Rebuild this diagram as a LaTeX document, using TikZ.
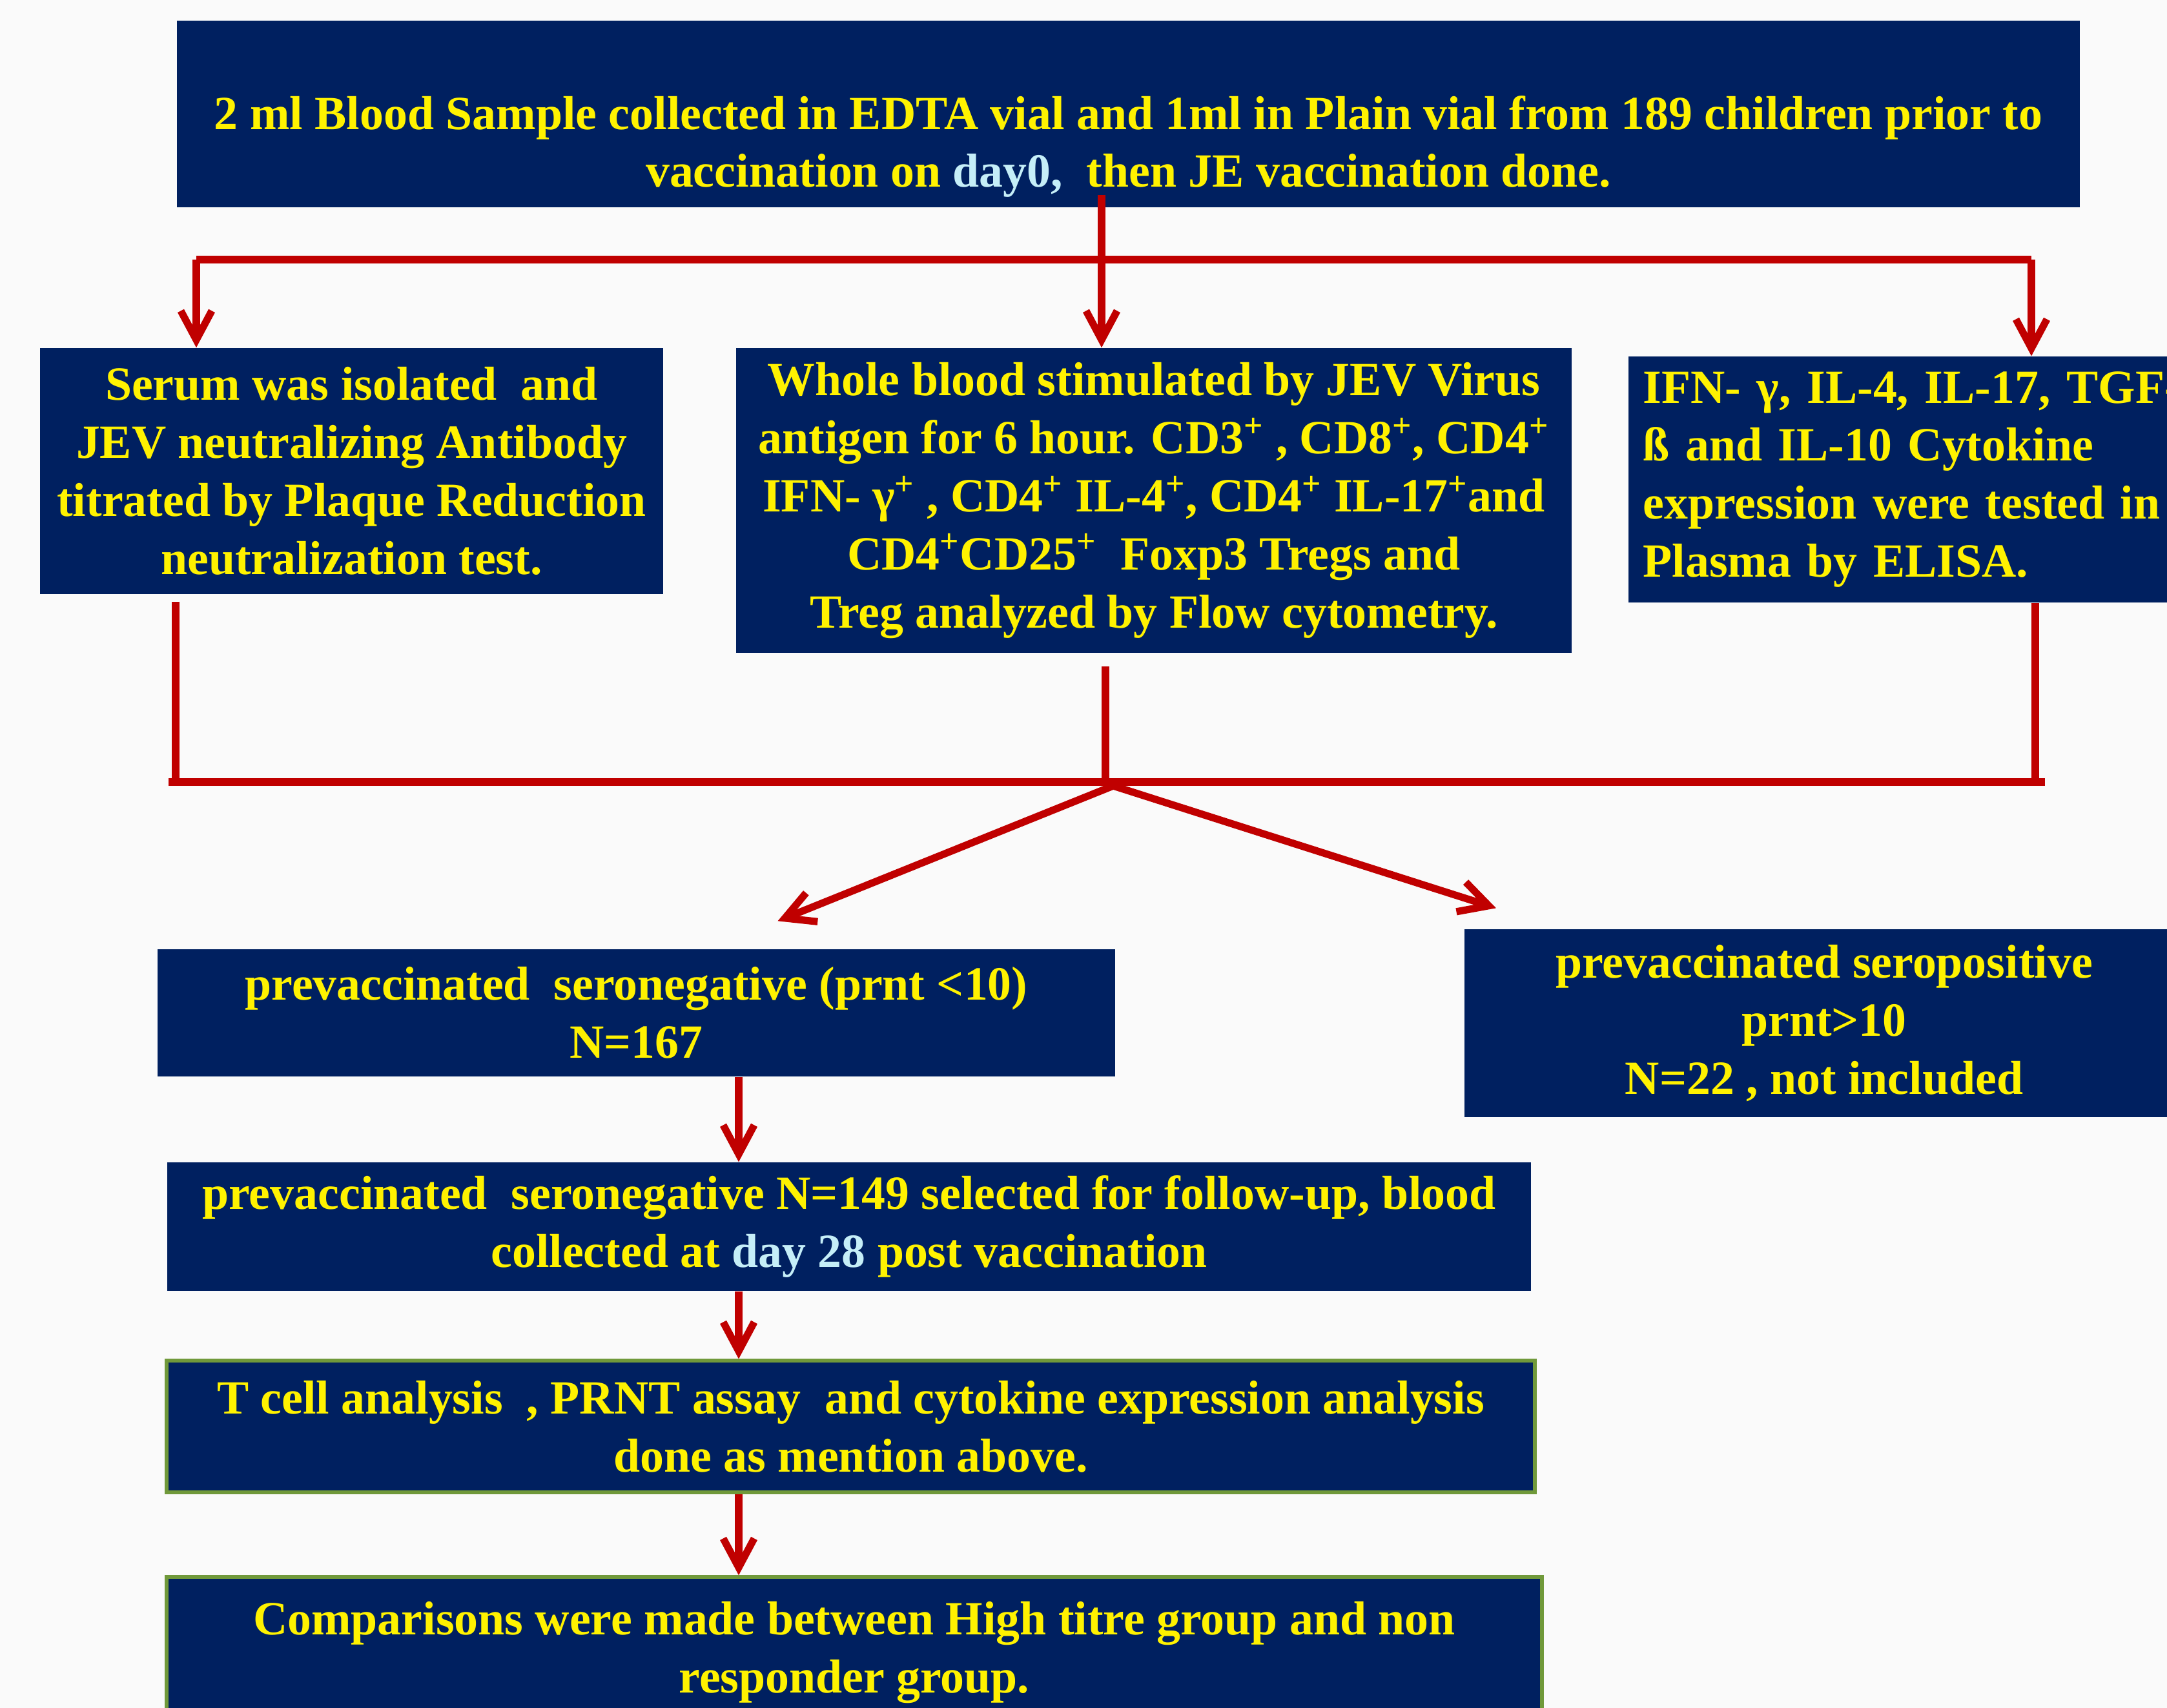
\documentclass[tikz,border=0pt]{standalone}
\usepackage{fontspec}
\setmainfont{Liberation Serif}
\usepackage{tikz,xcolor}
\usetikzlibrary{calc,positioning,arrows.meta}
\definecolor{boxblue}{HTML}{002060}
\definecolor{linered}{HTML}{C00000}
\definecolor{daycyan}{HTML}{C5EEF8}
\definecolor{boxgreen}{HTML}{70993A}
\definecolor{paper}{HTML}{FAFAFA}
\tikzset{
    bluenode/.style={
        fill=boxblue,
        text=yellow,
        align=center,
        inner sep=0pt,
        font=\bfseries\fontsize{21}{25.6}\selectfont
    },
    greennode/.style={
        bluenode,
        draw=boxgreen,
        line width=1.5pt
    },
    redline/.style={
        draw=linered,
        line width=3.2pt
    },
    redarrow/.style={
        redline,
        -{Straight Barb[length=4.5mm,width=4.8mm]}
    }
}

\begin{document}
\begin{tikzpicture}
        \useasboundingbox[fill=paper] (0,0) rectangle (33.56,-26.45);

        \node[bluenode, minimum width=29.47cm, minimum height=2.89cm] (sample) at (17.475,-1.765)
            {\strut\\ 2 ml Blood Sample collected in EDTA vial and 1ml in Plain vial from 189 children prior to\\
             vaccination on \textcolor{daycyan}{day0,}\ \ then JE vaccination done.};
        \node[bluenode, minimum width=9.65cm, minimum height=3.81cm] (serum) at (5.445,-7.295)
            {Serum was isolated\ \ and\\ JEV neutralizing Antibody\\ titrated by Plaque Reduction\\ neutralization test.};
        \node[bluenode, minimum width=12.94cm, minimum height=4.72cm] (whole) at (17.87,-7.75)
            {Whole blood stimulated by JEV Virus\\
             antigen for 6 hour. CD3\textsuperscript{+} , CD8\textsuperscript{+}, CD4\textsuperscript{+}\\
             IFN- γ\textsuperscript{+} , CD4\textsuperscript{+} IL-4\textsuperscript{+}, CD4\textsuperscript{+} IL-17\textsuperscript{+}and\\
             CD4\textsuperscript{+}CD25\textsuperscript{+}\ \ Foxp3 Tregs and\\
             Treg analyzed by Flow cytometry.};
        \node[bluenode, align=left, anchor=west, text width=9cm, inner xsep=0.23cm, minimum height=3.81cm] (cyto) at (25.21,-7.425)
            {IFN- γ, IL-4, IL-17, TGF-\\ ß and IL-10 Cytokine\\ expression were tested in\\ Plasma by ELISA.};
        \node[bluenode, minimum width=14.83cm, minimum height=1.97cm] (neg) at (9.855,-15.685)
            {prevaccinated\ \ seronegative (prnt <10)\\ N=167};
        \node[bluenode, minimum width=11.14cm, minimum height=2.91cm] (pos) at (28.25,-15.845)
            {prevaccinated seropositive\\ prnt>10\\ N=22 , not included};
        \node[bluenode, minimum width=21.12cm, minimum height=1.99cm] (follow) at (13.15,-18.995)
            {prevaccinated\ \ seronegative N=149 selected for follow-up, blood\\
             collected at \textcolor{daycyan}{day 28} post vaccination};
        \node[greennode, minimum width=21.19cm, minimum height=2.04cm] (tcell) at (13.175,-22.09)
            {T cell analysis\ \ , PRNT assay\ \ and cytokine expression analysis\\ done as mention above.};
        \node[greennode, minimum width=21.3cm, minimum height=2.34cm] (compare) at (13.23,-25.59)
            {Comparisons were made between High titre group and non\\ responder group.};

        % upper split
        \coordinate (barL) at (3.04,-4.02);
        \coordinate (split) at (17.06,-4.02);
        \coordinate (barR) at (31.46,-4.02);
        \draw[redline] (barL) -- (barR);
        \draw[redarrow] ($(sample.south -| split)+(0,0.2)$) -- (whole.north -| split);
        \draw[redarrow] (barL) -- (serum.north -| barL);
        \draw[redarrow] (barR) -- (cyto.north -| barR);

        % lower join
        \coordinate (joinL) at (2.72,-12.11);
        \coordinate (joinM) at (17.12,-12.11);
        \coordinate (joinR) at (31.52,-12.11);
        \coordinate (fork) at (17.24,-12.17);
        \draw[redline] ($(serum.south -| joinL)+(0,-0.11)$) -- (joinL);
        \draw[redline] ($(whole.south -| joinM)+(0,-0.2)$) -- (joinM);
        \draw[redline] (cyto.south -| joinR) -- (joinR);
        \draw[redline] ($(joinL)+(-0.11,0)$) -- ($(joinR)+(0.15,0)$);
        \draw[redarrow] (fork) -- ($(neg.north)+(2.19,0.43)$);
        \draw[redarrow] (fork) -- ($(pos.north)+(-5.08,0.32)$);

        % follow-up chain
        \coordinate (spine) at (11.44,0);
        \draw[redarrow] (neg.south -| spine) -- (follow.north -| spine);
        \draw[redarrow] (follow.south -| spine) -- (tcell.north -| spine);
        \draw[redarrow] (tcell.south -| spine) -- (compare.north -| spine);

    \end{tikzpicture}
\end{document}
